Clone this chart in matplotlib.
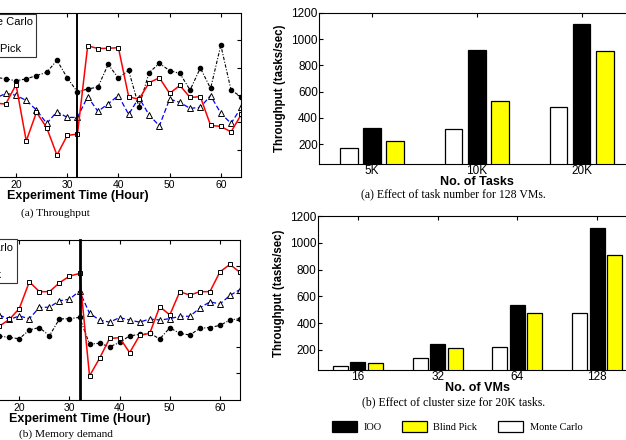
import numpy as np
import matplotlib
matplotlib.use('Agg')
from matplotlib import pyplot as plt

# hours shown in the two (cropped) time series panels
hours = [16, 18, 20, 22, 24, 26, 28, 30, 32, 34, 36, 38, 40, 42, 44, 46, 48, 50,
         52, 54, 56, 58, 60, 62, 64]

# (a) Throughput
thr_blind = [2.70, 2.67, 3.38, 1.32, 2.37, 1.80, 0.80, 1.52, 1.57, 4.80, 4.70, 4.71, 4.73,
             2.94, 2.84, 3.45, 3.63, 3.06, 3.35, 2.91, 2.94, 1.89, 1.85, 1.65, 2.29]
thr_ioo = [2.88, 3.06, 2.99, 2.80, 2.45, 1.96, 2.39, 2.18, 2.18, 2.94, 2.40, 2.68, 2.98,
           2.29, 2.90, 2.27, 1.87, 2.85, 2.73, 2.51, 2.55, 2.98, 2.33, 1.96, 2.55]
thr_monte = [3.65, 3.59, 3.52, 3.59, 3.71, 3.83, 4.27, 3.63, 3.11, 3.22, 3.29, 4.12, 3.62,
             3.90, 2.57, 3.82, 4.16, 3.89, 3.79, 3.18, 3.99, 3.24, 4.82, 3.18, 2.93]

# (b) Memory demand
mem_blind = [2.76, 3.01, 3.42, 4.42, 4.05, 4.05, 4.38, 4.63, 4.73, 0.90, 1.56, 2.30, 2.33,
             1.77, 2.42, 2.49, 3.49, 3.18, 4.05, 3.92, 4.05, 4.05, 4.79, 5.07, 4.77]
mem_ioo = [3.18, 3.01, 3.14, 3.04, 3.46, 3.47, 3.71, 3.77, 4.07, 3.24, 2.99, 2.91, 3.08,
           2.99, 2.91, 3.03, 2.99, 3.04, 3.13, 3.13, 3.44, 3.67, 3.59, 3.91, 4.13]
mem_monte = [2.39, 2.34, 2.29, 2.62, 2.71, 2.40, 3.03, 3.04, 3.09, 2.09, 2.12, 1.99, 2.15,
             2.40, 2.45, 2.50, 2.28, 2.70, 2.49, 2.43, 2.68, 2.71, 2.79, 2.99, 3.04]

switch_hour = 32
hour_ticks = [20, 30, 40, 50, 60]

# bar charts: throughput (tasks/sec)
task_labels = ['5K', '10K', '20K']
task_monte = [175, 314, 480]
task_ioo = [327, 916, 1117]
task_blind = [228, 530, 912]

vm_labels = ['16', '32', '64', '128']
vm_monte = [77, 142, 225, 476]
vm_ioo = [112, 245, 539, 1114]
vm_blind = [100, 212, 474, 909]

W, H = 626, 440
SANS = 'Liberation Sans'
SERIF = 'Liberation Serif'

fig = plt.figure(figsize=(W / 100, H / 100), dpi=100)


def add_ax(left, top, right, bottom):
    return fig.add_axes([left / W, 1 - bottom / H, (right - left) / W, (bottom - top) / H])


def line_panel(ax, blind, ioo, monte, vline_w, leg_right, leg_top):
    h_m, = ax.plot(hours, monte, color='black', lw=0.8, dashes=(3, 1.5, 1, 1.5),
                   marker='o', ms=3, mfc='black', mec='black')
    h_i, = ax.plot(hours, ioo, color='blue', lw=0.9, dashes=(4, 2),
                   marker='^', ms=4, mfc='white', mec='black', mew=0.7)
    h_b, = ax.plot(hours, blind, color='red', lw=1.1,
                   marker='s', ms=3.5, mfc='white', mec='black', mew=0.7)
    ax.axvline(switch_hour, color='black', lw=vline_w)
    ax.set_xlim(0, 64)
    ax.set_ylim(0, 6)
    ax.set_xticks(hour_ticks)
    ax.set_yticks([1, 2, 3, 4, 5])
    # left part of the panel (y labels) lies outside the page
    ax.tick_params(direction='in', top=True, right=True, length=3, labelsize=7.5, pad=2,
                   labelleft=False)
    for lab in ax.get_xticklabels():
        lab.set_fontfamily(SANS)
    ax.set_xlabel('Experiment Time (Hour)', fontsize=9, fontweight='bold',
                  fontfamily=SANS, labelpad=0)
    for s in ax.spines.values():
        s.set_linewidth(0.8)
    leg = ax.legend([h_m, h_i, h_b], ['Monte Carlo', 'IOO', 'Blind Pick'],
                    loc='upper right', bbox_to_anchor=(leg_right / W, 1 - leg_top / H),
                    bbox_transform=fig.transFigure, fancybox=False, edgecolor='#333333',
                    framealpha=1, prop={'family': SANS, 'size': 8}, borderpad=0.3,
                    labelspacing=0.3, handlelength=2.5, borderaxespad=0)
    leg.get_frame().set_linewidth(0.8)


def bar_panel(ax, labels, monte, ioo, blind, width, xlabel):
    x = np.arange(1, len(labels) + 1)
    off = 0.22
    b_m = ax.bar(x - off, monte, width, color='white', edgecolor='black', lw=0.9)
    b_i = ax.bar(x, ioo, width, color='black', edgecolor='black', lw=0.9)
    b_b = ax.bar(x + off, blind, width, color='#ffff00', edgecolor='black', lw=0.9)
    ax.set_xlim(0.5, len(labels) + 0.5)
    ax.set_ylim(50, 1200)
    ax.set_xticks(x)
    ax.set_xticklabels(labels)
    ax.set_yticks([200, 400, 600, 800, 1000, 1200])
    ax.tick_params(direction='in', top=True, right=True, length=3, labelsize=8.5, pad=1)
    for lab in ax.get_xticklabels() + ax.get_yticklabels():
        lab.set_fontfamily(SANS)
    ax.set_xlabel(xlabel, fontsize=9, fontweight='bold', fontfamily=SANS, labelpad=-1)
    ax.set_ylabel('Throughput (tasks/sec)', fontsize=8.3, fontweight='bold',
                  fontfamily=SANS, labelpad=4)
    for s in ax.spines.values():
        s.set_linewidth(0.8)
    return b_m, b_i, b_b


ax1 = add_ax(-86.4, 13, 241.3, 177)
line_panel(ax1, thr_blind, thr_ioo, thr_monte, 1.4, 36, 14)

ax2 = add_ax(-81, 239.5, 240, 400)
line_panel(ax2, mem_blind, mem_ioo, mem_monte, 2.0, 16.7, 239.5)

ax3 = add_ax(319.2, 12.7, 634, 164)
bar_panel(ax3, task_labels, task_monte, task_ioo, task_blind, 0.17, 'No. of Tasks')

ax4 = add_ax(318, 216, 637, 370)
b_m, b_i, b_b = bar_panel(ax4, vm_labels, vm_monte, vm_ioo, vm_blind, 0.19, 'No. of VMs')

# sub-figure captions
fig.text(55 / W, 1 - 213 / H, '(a) Throughput', ha='center', va='center',
         fontfamily=SERIF, fontsize=8.2)
fig.text(66 / W, 1 - 434 / H, '(b) Memory demand', ha='center', va='center',
         fontfamily=SERIF, fontsize=8.2)
fig.text(453.5 / W, 1 - 194.7 / H, '(a) Effect of task number for 128 VMs.', ha='center',
         va='center', fontfamily=SERIF, fontsize=8.5)
fig.text(453.5 / W, 1 - 402 / H, '(b) Effect of cluster size for 20K tasks.', ha='center',
         va='center', fontfamily=SERIF, fontsize=8.5)

fig.legend([b_i, b_b, b_m], ['IOO', 'Blind Pick', 'Monte Carlo'], ncol=3,
           loc='center left', bbox_to_anchor=(332 / W, 1 - 426.5 / H),
           bbox_transform=fig.transFigure, frameon=False,
           prop={'family': SERIF, 'size': 7.5}, handlelength=2.4, handleheight=1.2,
           handletextpad=0.6, columnspacing=2.0, borderpad=0, borderaxespad=0)

fig.savefig('out.png', dpi=100)
